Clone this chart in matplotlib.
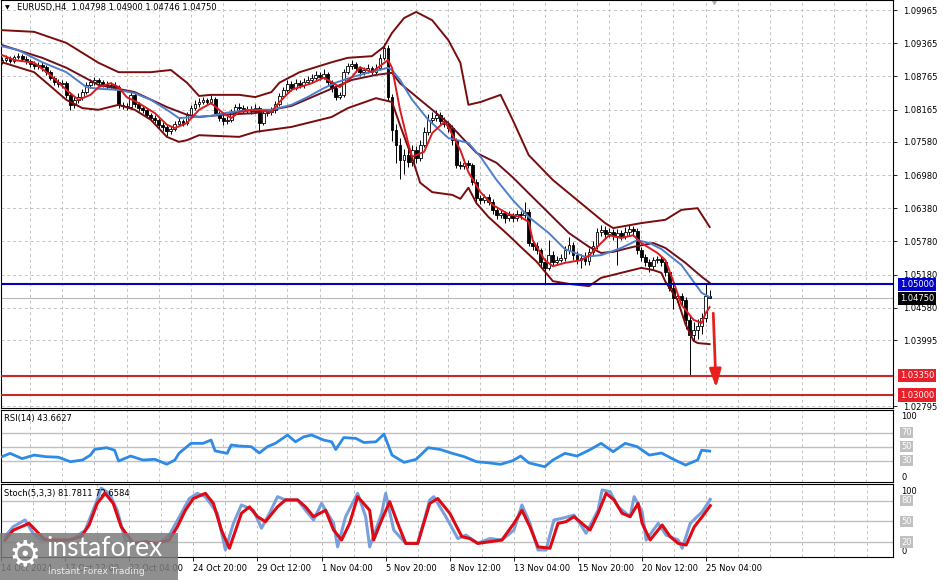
import matplotlib
matplotlib.use('Agg')
import matplotlib.pyplot as plt
import matplotlib.transforms as mtransforms
from matplotlib.patches import Rectangle
import numpy as np

# EURUSD H4 candles (bar 0 = 14 Oct 2024 20:00 ... bar 176 = 25 Nov 08:00)
first_open = 1.0903
close = [1.0906, 1.0910, 1.0904, 1.0911, 1.0913, 1.0908, 1.0904, 1.0899, 1.0896, 1.0897,
         1.0893, 1.0884, 1.0874, 1.0866, 1.0863, 1.0864, 1.0843, 1.0825, 1.0834, 1.0839,
         1.0848, 1.0861, 1.0866, 1.0870, 1.0866, 1.0863, 1.0859, 1.0861, 1.0857, 1.0825,
         1.0823, 1.0821, 1.0843, 1.0826, 1.0819, 1.0816, 1.0807, 1.0801, 1.0798, 1.0789,
         1.0785, 1.0778, 1.0781, 1.0790, 1.0796, 1.0792, 1.0807, 1.0819, 1.0826, 1.0830,
         1.0834, 1.0830, 1.0836, 1.0810, 1.0801, 1.0796, 1.0798, 1.0812, 1.0821, 1.0819,
         1.0816, 1.0817, 1.0814, 1.0819, 1.0792, 1.0810, 1.0812, 1.0816, 1.0826, 1.0841,
         1.0852, 1.0863, 1.0855, 1.0864, 1.0861, 1.0866, 1.0870, 1.0874, 1.0879, 1.0875,
         1.0881, 1.0866, 1.0855, 1.0839, 1.0843, 1.0884, 1.0895, 1.0899, 1.0892, 1.0884,
         1.0888, 1.0892, 1.0884, 1.0892, 1.0910, 1.0928, 1.0839, 1.0779, 1.0752, 1.0725,
         1.0734, 1.0722, 1.0743, 1.0729, 1.0752, 1.0776, 1.0798, 1.0801, 1.0807, 1.0796,
         1.0790, 1.0783, 1.0761, 1.0716, 1.0714, 1.0720, 1.0716, 1.0685, 1.0656, 1.0653,
         1.0658, 1.0649, 1.0635, 1.0625, 1.0629, 1.0620, 1.0625, 1.0620, 1.0627, 1.0625,
         1.0631, 1.0575, 1.0570, 1.0562, 1.0541, 1.0530, 1.0553, 1.0541, 1.0544, 1.0548,
         1.0562, 1.0571, 1.0553, 1.0544, 1.0548, 1.0542, 1.0559, 1.0570, 1.0595, 1.0599,
         1.0591, 1.0595, 1.0588, 1.0593, 1.0588, 1.0595, 1.0600, 1.0597, 1.0562, 1.0550,
         1.0541, 1.0533, 1.0544, 1.0546, 1.0541, 1.0523, 1.0494, 1.0476, 1.0479, 1.0472,
         1.0436, 1.0409, 1.0418, 1.0425, 1.0439, 1.0480, 1.0475]
high = [1.0912, 1.0915, 1.0914, 1.0916, 1.0919, 1.0917, 1.0913, 1.0908, 1.0905, 1.0903,
        1.0902, 1.0897, 1.0888, 1.0878, 1.0872, 1.0870, 1.0868, 1.0848, 1.0840, 1.0846,
        1.0853, 1.0866, 1.0872, 1.0876, 1.0874, 1.0870, 1.0868, 1.0867, 1.0866, 1.0860,
        1.0830, 1.0828, 1.0848, 1.0846, 1.0830, 1.0823, 1.0820, 1.0811, 1.0806, 1.0802,
        1.0794, 1.0789, 1.0787, 1.0795, 1.0801, 1.0800, 1.0812, 1.0825, 1.0833, 1.0837,
        1.0840, 1.0838, 1.0843, 1.0840, 1.0814, 1.0806, 1.0805, 1.0817, 1.0827, 1.0828,
        1.0824, 1.0823, 1.0822, 1.0826, 1.0823, 1.0815, 1.0818, 1.0821, 1.0832, 1.0846,
        1.0858, 1.0870, 1.0868, 1.0871, 1.0869, 1.0873, 1.0877, 1.0881, 1.0887, 1.0884,
        1.0889, 1.0885, 1.0870, 1.0859, 1.0849, 1.0889, 1.0901, 1.0906, 1.0903, 1.0896,
        1.0894, 1.0898, 1.0896, 1.0899, 1.0917, 1.0937, 1.0934, 1.0845, 1.0790, 1.0765,
        1.0745, 1.0748, 1.0752, 1.0750, 1.0762, 1.0785, 1.0808, 1.0812, 1.0815, 1.0812,
        1.0803, 1.0796, 1.0788, 1.0765, 1.0723, 1.0727, 1.0726, 1.0720, 1.0690, 1.0662,
        1.0664, 1.0663, 1.0654, 1.0640, 1.0636, 1.0633, 1.0632, 1.0630, 1.0634, 1.0633,
        1.0650, 1.0636, 1.0580, 1.0576, 1.0566, 1.0548, 1.0580, 1.0560, 1.0552, 1.0555,
        1.0570, 1.0585, 1.0576, 1.0560, 1.0556, 1.0558, 1.0566, 1.0578, 1.0602, 1.0607,
        1.0605, 1.0603, 1.0600, 1.0601, 1.0598, 1.0604, 1.0608, 1.0606, 1.0603, 1.0568,
        1.0556, 1.0546, 1.0550, 1.0552, 1.0552, 1.0546, 1.0528, 1.0500, 1.0486, 1.0485,
        1.0478, 1.0445, 1.0432, 1.0438, 1.0448, 1.0502, 1.0490]
low = [1.0899, 1.0902, 1.0900, 1.0901, 1.0907, 1.0904, 1.0898, 1.0893, 1.0890, 1.0889,
       1.0887, 1.0879, 1.0869, 1.0860, 1.0857, 1.0856, 1.0838, 1.0815, 1.0820, 1.0828,
       1.0833, 1.0844, 1.0856, 1.0861, 1.0860, 1.0858, 1.0854, 1.0855, 1.0851, 1.0820,
       1.0817, 1.0815, 1.0818, 1.0821, 1.0813, 1.0810, 1.0802, 1.0796, 1.0792, 1.0783,
       1.0778, 1.0768, 1.0772, 1.0777, 1.0786, 1.0787, 1.0789, 1.0803, 1.0815, 1.0821,
       1.0826, 1.0825, 1.0826, 1.0806, 1.0795, 1.0789, 1.0791, 1.0794, 1.0808, 1.0813,
       1.0811, 1.0810, 1.0809, 1.0810, 1.0775, 1.0788, 1.0805, 1.0807, 1.0811, 1.0822,
       1.0837, 1.0848, 1.0850, 1.0851, 1.0855, 1.0856, 1.0862, 1.0865, 1.0870, 1.0869,
       1.0871, 1.0861, 1.0849, 1.0834, 1.0835, 1.0840, 1.0880, 1.0890, 1.0886, 1.0878,
       1.0879, 1.0883, 1.0879, 1.0880, 1.0888, 1.0906, 1.0832, 1.0760, 1.0720, 1.0690,
       1.0700, 1.0712, 1.0715, 1.0720, 1.0724, 1.0748, 1.0770, 1.0792, 1.0795, 1.0790,
       1.0784, 1.0776, 1.0752, 1.0710, 1.0708, 1.0708, 1.0710, 1.0680, 1.0648, 1.0645,
       1.0647, 1.0643, 1.0628, 1.0618, 1.0620, 1.0612, 1.0614, 1.0613, 1.0615, 1.0618,
       1.0620, 1.0570, 1.0562, 1.0555, 1.0533, 1.0500, 1.0526, 1.0535, 1.0536, 1.0540,
       1.0543, 1.0556, 1.0545, 1.0537, 1.0530, 1.0535, 1.0536, 1.0553, 1.0565, 1.0588,
       1.0584, 1.0585, 1.0580, 1.0535, 1.0580, 1.0583, 1.0590, 1.0588, 1.0555, 1.0542,
       1.0534, 1.0522, 1.0528, 1.0538, 1.0534, 1.0516, 1.0488, 1.0455, 1.0468, 1.0462,
       1.0420, 1.0336, 1.0398, 1.0402, 1.0410, 1.0432, 1.0475]

# indicator lines, sampled at bar indices
bb_up_idx = [0, 8, 16, 24, 29, 37, 42, 46, 49, 52, 59, 63, 67, 69, 74, 78, 82, 86, 92, 95, 97,
             100, 103, 107, 111, 114, 116, 119, 124, 127, 131, 137, 144, 150, 152, 159, 165, 169, 173, 176]
bb_up = [1.0960, 1.0957, 1.0937, 1.0901, 1.0884, 1.0884, 1.0888, 1.0865, 1.0841, 1.0843, 1.0843,
         1.0839, 1.0848, 1.0865, 1.0884, 1.0893, 1.0902, 1.0910, 1.0913, 1.0930, 1.0955,
         1.0982, 1.0993, 1.0978, 1.0942, 1.0901, 1.0825, 1.0830, 1.0843, 1.0798, 1.0734, 1.0689,
         1.0647, 1.0611, 1.0602, 1.0611, 1.0617, 1.0635, 1.0638, 1.0604]
bb_mid_idx = [0, 10, 16, 24, 33, 41, 46, 49, 55, 63, 72, 80, 87, 93, 97, 99, 107, 111, 118, 123,
              127, 131, 136, 141, 146, 149, 152, 157, 162, 165, 170, 174, 176]
bb_mid = [1.0933, 1.0910, 1.0892, 1.0861, 1.0848, 1.0821, 1.0807, 1.0803, 1.0807, 1.0810, 1.0823,
          1.0848, 1.0870, 1.0879, 1.0883, 1.0864, 1.0816, 1.0792, 1.0738, 1.0720,
          1.0694, 1.0665, 1.0629, 1.0593, 1.0568, 1.0557, 1.0559, 1.0568, 1.0575, 1.0566, 1.0539, 1.0514, 1.0503]
bb_lo_idx = [0, 8, 16, 20, 24, 29, 33, 37, 41, 44, 46, 49, 59, 63, 72, 82, 86, 93, 97, 99, 102,
             104, 107, 112, 114, 116, 118, 121, 126, 129, 133, 137, 141, 146, 149, 154, 159, 162,
             164, 165, 168, 170, 172, 173, 176]
bb_lo = [1.0902, 1.0884, 1.0834, 1.0819, 1.0816, 1.0825, 1.0816, 1.0798, 1.0767, 1.0758, 1.0761,
         1.0770, 1.0767, 1.0776, 1.0785, 1.0803, 1.0819, 1.0837, 1.0830, 1.0788, 1.0729,
         1.0684, 1.0667, 1.0662, 1.0655, 1.0675, 1.0647, 1.0622, 1.0589, 1.0568, 1.0541, 1.0506,
         1.0501, 1.0497, 1.0512, 1.0521, 1.0530, 1.0526, 1.0521, 1.0505, 1.0472, 1.0428, 1.0398,
         1.0394, 1.0392]
ma_slow_idx = [0, 4, 10, 16, 21, 24, 29, 33, 37, 41, 44, 48, 52, 57, 62, 67, 72, 76, 80, 83, 87,
               91, 96, 97, 99, 102, 106, 111, 116, 119, 123, 127, 131, 136, 140, 145, 149, 154, 158,
               161, 164, 169, 172, 174, 176]
ma_slow = [1.0931, 1.0924, 1.0902, 1.0884, 1.0857, 1.0854, 1.0852, 1.0846, 1.0834, 1.0816, 1.0801,
           1.0803, 1.0805, 1.0812, 1.0816, 1.0816, 1.0825, 1.0839, 1.0855, 1.0865, 1.0875,
           1.0883, 1.0892, 1.0888, 1.0870, 1.0834, 1.0798, 1.0765, 1.0756, 1.0731, 1.0689, 1.0653,
           1.0622, 1.0593, 1.0564, 1.0550, 1.0553, 1.0566, 1.0580, 1.0575, 1.0564, 1.0535, 1.0505,
           1.0485, 1.0477]
ma_fast_idx = [0, 3, 8, 12, 16, 19, 22, 24, 27, 29, 31, 34, 38, 41, 43, 46, 49, 52, 55, 57, 59, 63,
               67, 69, 72, 74, 77, 80, 82, 84, 87, 89, 92, 96, 97, 99, 101, 102, 105, 107, 110, 111,
               114, 116, 119, 122, 126, 129, 131, 132, 135, 137, 140, 144, 146, 149, 151, 154, 157,
               159, 163, 165, 167, 169, 172, 174, 175, 176]
ma_fast = [1.0915, 1.0906, 1.0901, 1.0879, 1.0852, 1.0834, 1.0843, 1.0857, 1.0864, 1.0857, 1.0839,
           1.0828, 1.0810, 1.0789, 1.0783, 1.0792, 1.0816, 1.0828, 1.0810, 1.0801, 1.0812, 1.0816,
           1.0812, 1.0830, 1.0852, 1.0857, 1.0864, 1.0874, 1.0866, 1.0857, 1.0875, 1.0893, 1.0884,
           1.0906, 1.0892, 1.0816, 1.0756, 1.0731, 1.0740, 1.0774, 1.0794, 1.0785, 1.0743, 1.0703,
           1.0667, 1.0644, 1.0627, 1.0622, 1.0613, 1.0580, 1.0544, 1.0533, 1.0539, 1.0544, 1.0552,
           1.0575, 1.0589, 1.0584, 1.0589, 1.0575, 1.0557, 1.0544, 1.0505, 1.0463, 1.0436, 1.0430,
           1.0448, 1.0459]

rsi_idx = [0, 2, 5, 8, 11, 14, 17, 20, 22, 23, 26, 28, 29, 32, 35, 38, 41, 43, 44, 47, 50, 52, 53,
           56, 57, 59, 62, 64, 66, 68, 71, 73, 75, 77, 80, 82, 83, 85, 88, 90, 93, 95, 97, 100,
           103, 106, 109, 112, 115, 118, 121, 124, 127, 129, 131, 135, 137, 140, 143, 146, 149,
           152, 155, 158, 161, 164, 167, 170, 173, 174, 176]
rsi = [35.7, 40.5, 33, 38, 35.7, 35, 28.6, 31, 38, 46, 48.6, 45, 29.5, 36.7, 31, 32, 25, 31, 40.5,
       54.8, 54.8, 59.5, 44, 40.5, 52.4, 51, 50, 41, 50, 54.8, 66.7, 57, 64, 66.7, 59.5, 57, 46,
       63, 61.9, 56, 57, 68, 38, 27.6, 32, 48.6, 46, 40.5, 35.7, 28.6, 27, 24.8, 30, 36.7, 27,
       21.4, 31, 40.5, 36.7, 45, 54.8, 42.9, 54.8, 50, 38, 41, 32, 23.8, 31, 45, 43.7]

stoch_k_idx = [0, 2, 5, 7, 9, 11, 14, 17, 20, 23, 24, 26, 28, 30, 32, 35, 38, 41, 44, 46, 48, 50,
               53, 55, 57, 59, 62, 64, 66, 68, 70, 73, 75, 77, 79, 82, 83, 85, 88, 90, 91, 94, 95,
               97, 100, 103, 106, 107, 110, 113, 115, 118, 119, 121, 124, 127, 129, 131, 133, 135,
               137, 139, 142, 144, 145, 148, 149, 151, 153, 156, 157, 159, 160, 163, 165, 168, 169,
               171, 174, 176]
stoch_k = [27.8, 42, 52, 32.6, 23, 25, 20.5, 25, 37, 81, 98, 90.6, 66, 23, 18, 20.5, 15.7, 30, 61.6,
           83, 90.6, 85.7, 61.6, 8.5, 47, 73.7, 66, 40, 61.6, 85.7, 81, 81, 66, 52, 76, 47, 13,
           56.8, 90.6, 56.8, 13, 61.6, 90.6, 37.4, 18, 18, 81, 85.7, 56.8, 25, 30, 18, 20.5, 25,
           22.9, 37.4, 73.7, 47, 8.5, 8.5, 52, 54.3, 59, 42, 32.6, 66, 95.4, 93, 71, 56.8, 85.7,
           64, 23, 47, 30, 23, 11, 47, 64, 81.8]
stoch_d_idx = [0, 2, 6, 8, 10, 13, 16, 19, 21, 23, 25, 27, 29, 32, 35, 38, 41, 43, 45, 47, 50, 52,
               54, 56, 59, 61, 63, 65, 68, 70, 73, 75, 77, 80, 82, 84, 86, 88, 91, 92, 94, 96, 98,
               100, 103, 106, 108, 111, 114, 116, 118, 121, 124, 127, 129, 131, 133, 136, 138, 140,
               142, 145, 146, 148, 150, 152, 154, 156, 158, 159, 161, 164, 166, 168, 170, 172, 174, 176]
stoch_d = [23, 37, 47, 35, 23, 23, 23, 27.8, 44.7, 76, 90.6, 76, 42, 18, 20.5, 18, 23, 42, 66, 83,
           90.6, 76, 37.4, 11, 61.6, 71, 56.8, 49.5, 71, 81, 81, 71, 56.8, 66, 37.4, 23, 47, 85.7,
           66, 23, 52, 78.5, 47, 18, 18, 76, 83, 61.6, 27.8, 25, 18, 20.5, 22.9, 47, 66, 42, 13,
           11, 47, 49.5, 56.8, 42, 37.4, 61.6, 90.6, 81, 61.6, 56.8, 76, 47, 23, 44.7, 27.8, 18,
           15.7, 42, 56.8, 72.7]

# axis text
date_idx = [-1, 15, 31, 47, 63, 79, 95, 111, 127, 143, 159, 175]
date_labels = ['14 Oct 2024', '17 Oct 12:00', '22 Oct 04:00', '24 Oct 20:00', '29 Oct 12:00',
               '1 Nov 04:00', '5 Nov 20:00', '8 Nov 12:00', '13 Nov 04:00', '15 Nov 20:00',
               '20 Nov 12:00', '25 Nov 04:00']
price_ticks = [1.09965, 1.09365, 1.08765, 1.08165, 1.07580, 1.06980, 1.06380, 1.05780,
               1.05180, 1.04580, 1.03995, 1.02795]
level_prices = [1.05000, 1.04750, 1.03350, 1.03000]
level_colors = ['#0000c8', '#000000', '#e8202a', '#e8202a']
support = 1.05000
targets = [1.03350, 1.03000]
last_price = 1.04750
arrow_idx = [176.9, 177.6]
arrow_price = [1.0448, 1.0313]

W, H = 943, 580
FS = 6.0
plt.rcParams['font.family'] = ['DejaVu Sans']

fig = plt.figure(figsize=(W / 100, H / 100), dpi=100)


def panel(x0, y0, x1, y1):
    return fig.add_axes([x0 / W, 1 - y1 / H, (x1 - x0) / W, (y1 - y0) / H])


ax = panel(1, 0, 893, 408)
ax_rsi = panel(1, 410, 893, 482)
ax_st = panel(1, 484, 893, 557)

grid_idx = np.arange(-1, 222, 8)
for a in (ax, ax_rsi, ax_st):
    a.set_xlim(-0.25, 221.6)
    for g in grid_idx:
        a.axvline(g, color='#c4c4c4', lw=0.7, ls=(0, (3, 3)), zorder=0)
    for s in a.spines.values():
        s.set_color('black')
        s.set_linewidth(0.8)
    a.tick_params(axis='x', length=0)
    a.set_xticks([])

# ---- main price panel
ax.set_ylim(1.02765, 1.10146)
for p in price_ticks:
    ax.axhline(p, color='#c4c4c4', lw=0.7, ls=(0, (3, 3)), zorder=0)
ax.yaxis.tick_right()
ax.set_yticks(price_ticks)
ax.set_yticklabels([f'{p:.5f}' for p in price_ticks])
ax.tick_params(axis='y', length=3, width=0.6, pad=4, labelsize=FS)

c = np.array(close)
o = np.concatenate([[first_open], c[:-1]])
x = np.arange(len(c))
ax.vlines(x, low, high, color='black', lw=0.7, zorder=2)
fills = ['white' if cc >= oo else 'black' for oo, cc in zip(o, c)]
ax.bar(x, np.abs(c - o), bottom=np.minimum(o, c), width=0.7, color=fills,
       edgecolor='black', linewidth=0.6, zorder=2.1)

ax.axhline(last_price, color='#b8b8b8', lw=0.8, zorder=1)
ax.axhline(support, color='#0000c0', lw=1.5, zorder=4)
for t in targets:
    ax.axhline(t, color='#c82828', lw=1.5, zorder=4)

ax.plot(bb_up_idx, bb_up, color='#7a0c0c', lw=1.4, zorder=3)
ax.plot(bb_lo_idx, bb_lo, color='#7a0c0c', lw=1.4, zorder=3)
ax.plot(bb_mid_idx, bb_mid, color='#6e0f1c', lw=1.4, zorder=3)
ax.plot(ma_slow_idx, ma_slow, color='#4f7fcc', lw=1.4, zorder=3.1)
ax.plot(ma_fast_idx, ma_fast, color='#dd1a1e', lw=1.4, zorder=3.2)

ax.annotate('', xy=(arrow_idx[1], arrow_price[1]), xytext=(arrow_idx[0], arrow_price[0]),
            arrowprops=dict(arrowstyle='-|>,head_width=0.35,head_length=1.1', color='#e8201c',
                            lw=2.0, shrinkA=0, shrinkB=0), zorder=6)

tr = mtransforms.blended_transform_factory(ax.transAxes, ax.transData)
for p, col in zip(level_prices, level_colors):
    ax.text(1.0075, p, f'{p:.5f}', transform=tr, color='white', fontsize=FS, va='center',
            ha='left', clip_on=False, zorder=20,
            bbox=dict(boxstyle='square,pad=0.25', fc=col, ec='none'))

ax.text(0.0075, 0.981, '\u25bc', transform=ax.transAxes, fontsize=4.5, va='center', ha='center')
ax.text(0.018, 0.981, 'EURUSD,H4  1.04798 1.04900 1.04746 1.04750', transform=ax.transAxes,
        fontsize=FS, va='center', ha='left')
ax.plot([177.2], [1.0], marker='v', ms=6, color='#b0b0b0',
        transform=mtransforms.blended_transform_factory(ax.transData, ax.transAxes), clip_on=False)

# ---- RSI panel
ax_rsi.set_ylim(-0.4, 102.4)
ax_rsi.set_yticks([])
for lv in (70, 50, 30):
    ax_rsi.axhline(lv, color='#c0c0c0', lw=1.0, zorder=1)
ax_rsi.plot(rsi_idx, rsi, color='#2d8ae6', lw=2.0, zorder=3)
ax_rsi.text(0.003, 0.885, 'RSI(14) 43.6627', transform=ax_rsi.transAxes, fontsize=FS,
            va='center', ha='left')
tr_r = mtransforms.blended_transform_factory(ax_rsi.transAxes, ax_rsi.transData)
ax_rsi.text(1.009, 100, '100', transform=tr_r, fontsize=FS, va='top', ha='left', clip_on=False)
ax_rsi.text(1.009, 0, '0', transform=tr_r, fontsize=FS, va='bottom', ha='left', clip_on=False)
for lv in (70, 50, 30):
    ax_rsi.text(1.009, lv, str(lv), transform=tr_r, fontsize=FS, va='center', ha='left',
                color='white', clip_on=False,
                bbox=dict(boxstyle='square,pad=0.15', fc='#c0c0c0', ec='none'))

# ---- Stochastic panel
ax_st.set_ylim(-1.7, 104.1)
ax_st.set_yticks([])
for lv in (80, 50, 20):
    ax_st.axhline(lv, color='#c0c0c0', lw=1.0, zorder=1)
ax_st.plot(stoch_k_idx, stoch_k, color='#7aa0dc', lw=2.2, zorder=3)
ax_st.plot(stoch_d_idx, stoch_d, color='#dd0a14', lw=2.2, zorder=3.1)
ax_st.text(0.003, 0.875, 'Stoch(5,3,3) 81.7811 72.6584', transform=ax_st.transAxes, fontsize=FS,
           va='center', ha='left')
tr_s = mtransforms.blended_transform_factory(ax_st.transAxes, ax_st.transData)
ax_st.text(1.009, 100, '100', transform=tr_s, fontsize=FS, va='top', ha='left', clip_on=False)
ax_st.text(1.009, 0, '0', transform=tr_s, fontsize=FS, va='bottom', ha='left', clip_on=False)
for lv in (80, 50, 20):
    ax_st.text(1.009, lv, str(lv), transform=tr_s, fontsize=FS, va='center', ha='left',
               color='white', clip_on=False,
               bbox=dict(boxstyle='square,pad=0.15', fc='#c0c0c0', ec='none'))
ax_st.set_xticks(date_idx)
ax_st.set_xticklabels(date_labels, ha='left')
ax_st.tick_params(axis='x', length=3, width=0.6, pad=2, labelsize=FS)

# ---- watermark (sits over the first date labels, as in the screenshot)
fig.add_artist(Rectangle((0, 0), 178 / W, 47 / H, transform=fig.transFigure,
                         fc='#7c7c7c', ec='none', alpha=0.85, zorder=10))
fig.text(25 / W, 1 - 555 / H, '\u2699', fontsize=26, color='white', ha='center', va='center',
         zorder=11)
fig.text(46 / W, 1 - 549 / H, 'instaforex', fontsize=19, color='white', ha='left', va='center',
         family=['Lato', 'DejaVu Sans'], zorder=11)
fig.text(48 / W, 1 - 571 / H, 'Instant Forex Trading', fontsize=6.6, color='#ececec',
         ha='left', va='center', zorder=11)

fig.savefig('out.png', dpi=100)
